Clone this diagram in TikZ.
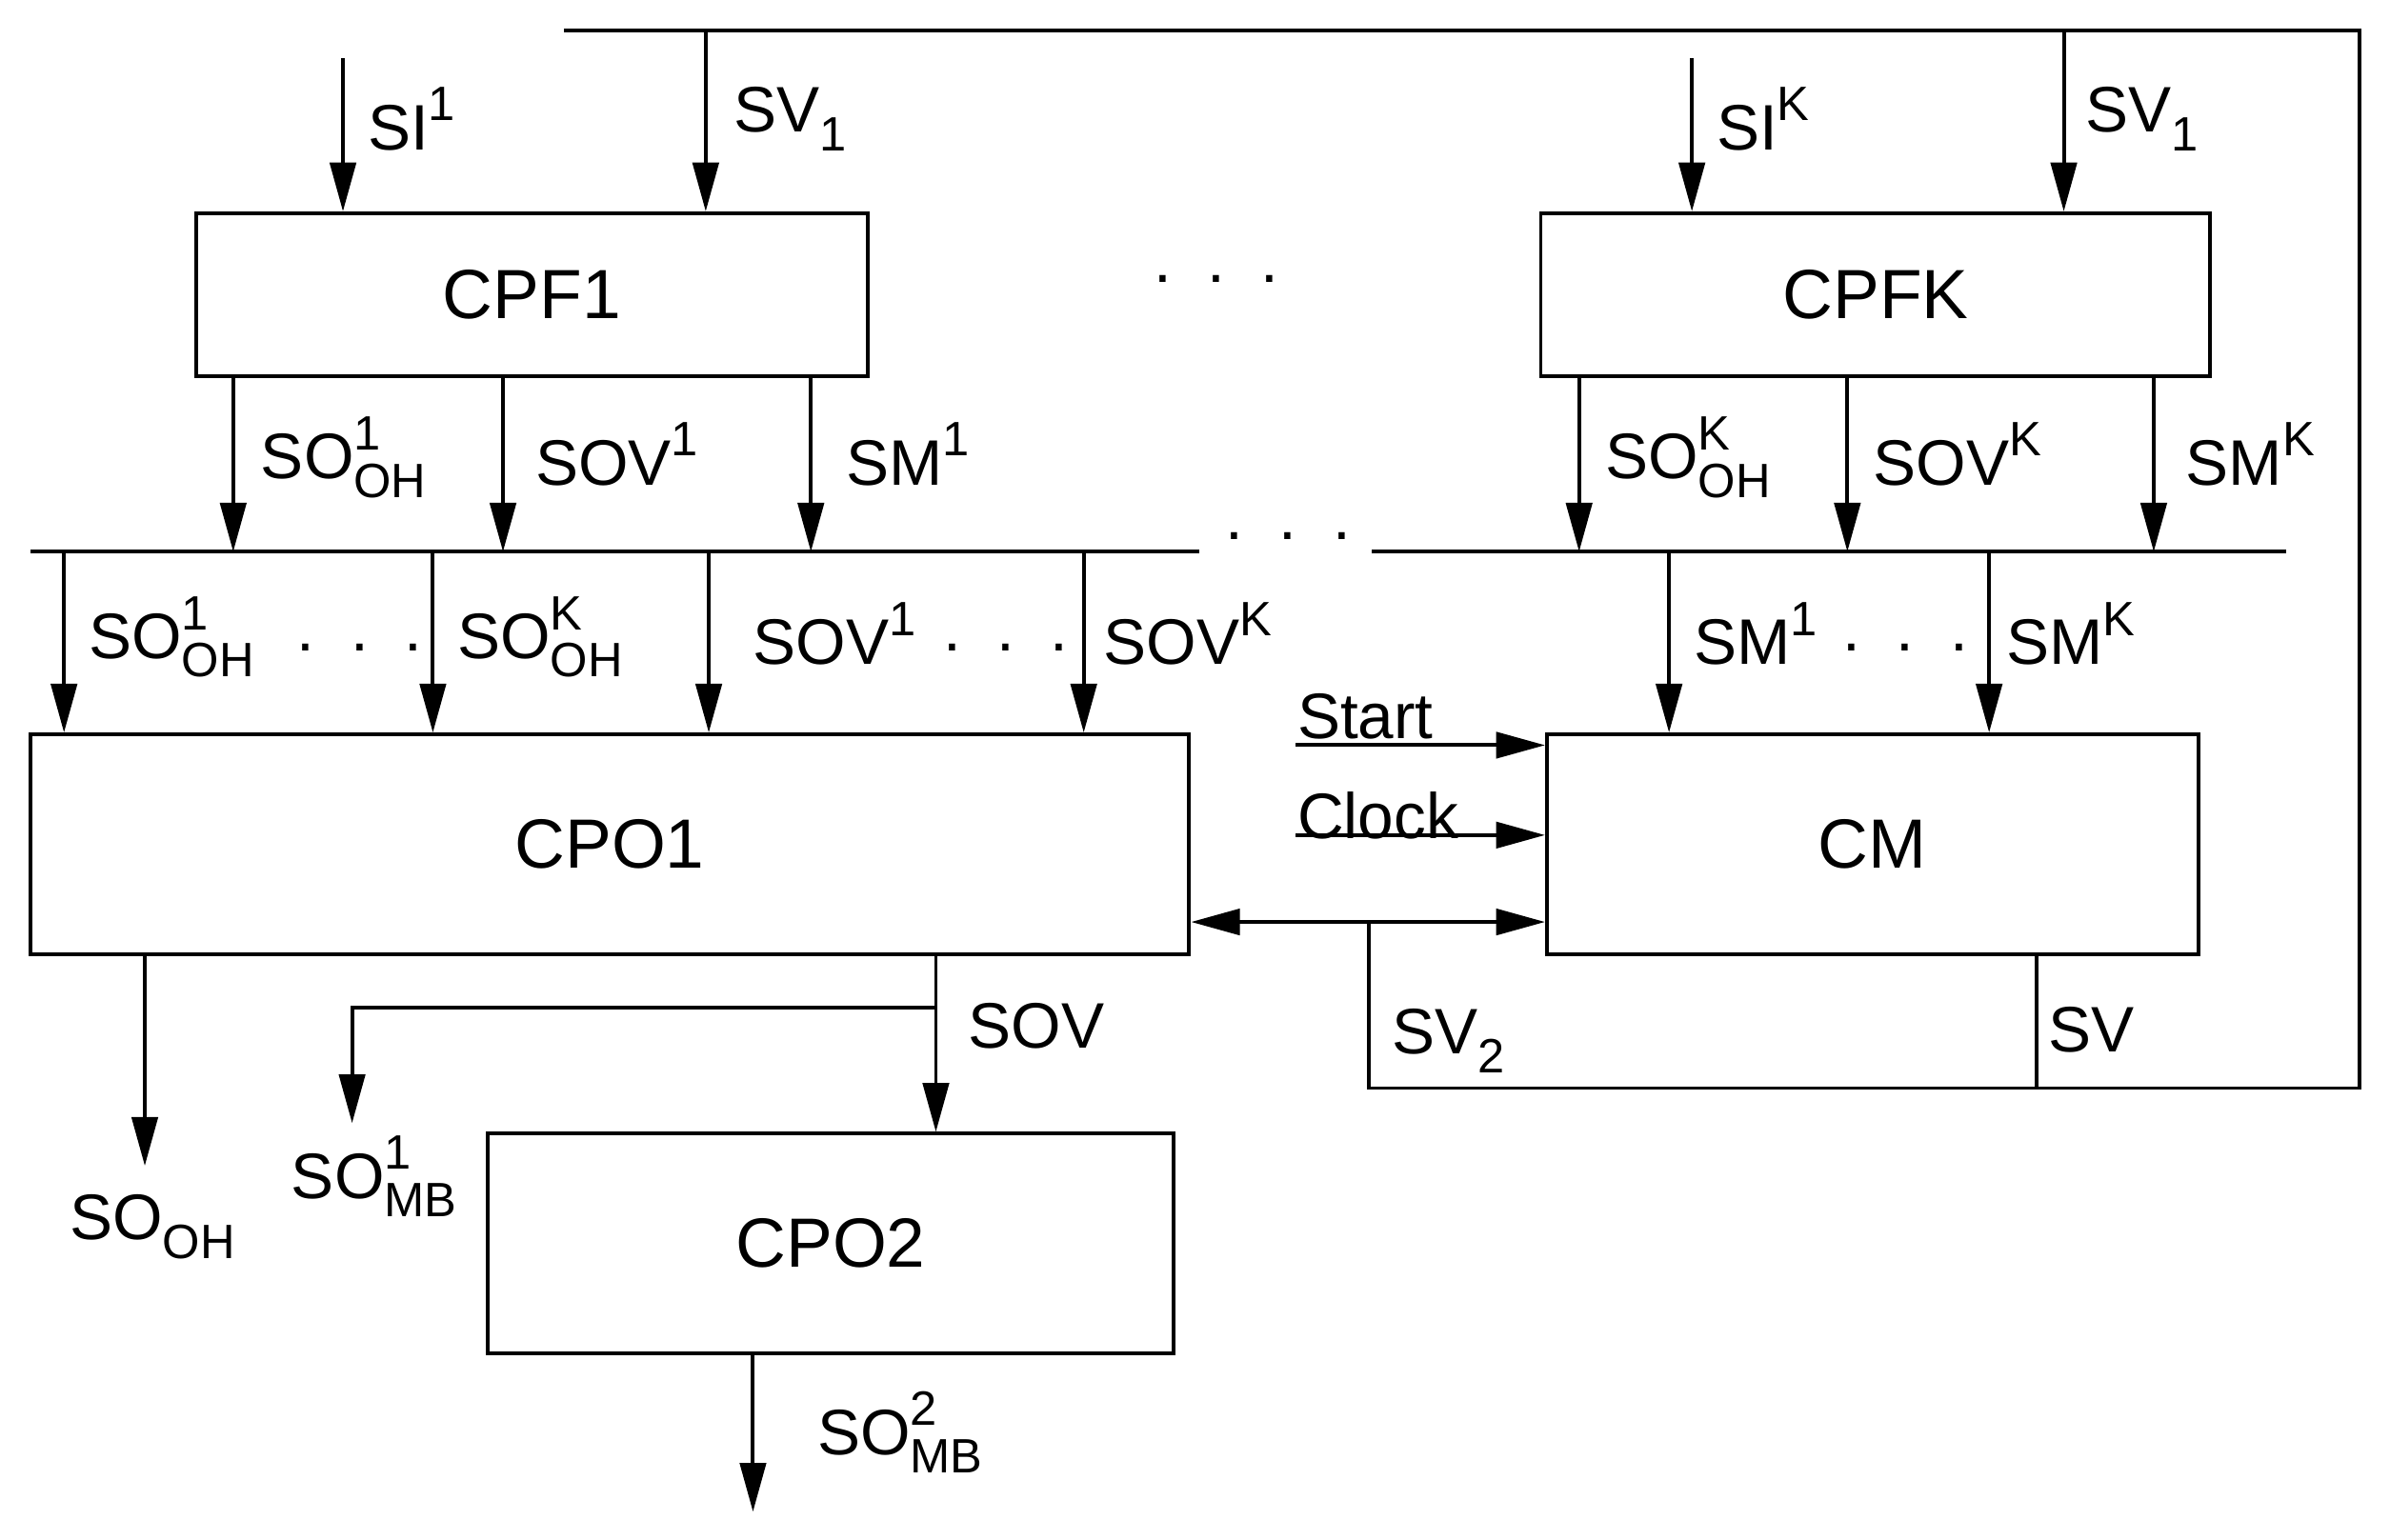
\documentclass[tikz,border=0pt]{standalone}
\usepackage{fontspec}
\setmainfont{Liberation Sans}
\usetikzlibrary{arrows.meta}
\newcommand\supsub[2]{\rlap{\raisebox{0.85ex}{\fontsize{9}{10}\selectfont #1}}\raisebox{-0.55ex}{\fontsize{9}{10}\selectfont #2}}
\newcommand\supx[1]{\raisebox{0.85ex}{\fontsize{9}{10}\selectfont #1}}
\newcommand\subx[1]{\raisebox{-0.55ex}{\fontsize{9}{10}\selectfont #1}}
\begin{document}
\begin{tikzpicture}[x=0.01cm,y=-0.01cm,line width=0.7pt,
  box/.style={draw,minimum width=#1,inner sep=0pt,font=\fontsize{13}{15}\selectfont},
  arr/.style={-{Triangle[length=0.32cm,width=0.17cm]}},
  darr/.style={{Triangle[length=0.32cm,width=0.17cm]}-{Triangle[length=0.32cm,width=0.17cm]}},
  lab/.style={font=\fontsize{12}{14}\selectfont,inner sep=0pt}]
\useasboundingbox (0,0) rectangle (1568,1010);
% boxes
\node[draw,minimum width=4.4cm,minimum height=1.07cm,font=\fontsize{13}{15}\selectfont] (cpf1) at (349,193.5) {CPF1};
\node[draw,minimum width=4.39cm,minimum height=1.07cm,font=\fontsize{13}{15}\selectfont] (cpfk) at (1230.5,193.5) {CPFK};
\node[draw,minimum width=7.6cm,minimum height=1.44cm,font=\fontsize{13}{15}\selectfont] (cpo1) at (400,554) {CPO1};
\node[draw,minimum width=4.27cm,minimum height=1.44cm,font=\fontsize{13}{15}\selectfont] (cm) at (1228.5,554) {CM};
\node[draw,minimum width=4.5cm,minimum height=1.44cm,font=\fontsize{13}{15}\selectfont] (cpo2) at (545,816) {CPO2};
% feedback loop
\coordinate (t0) at (370,20); \coordinate (t1) at (1548,20);
\coordinate (t2) at (1548,714); \coordinate (t3) at (898,714);
\coordinate (t4) at (898,605); \coordinate (sv) at (1336,714);
\draw (t0) -- (t1) -- (t2) -- (t3) -- (t4);
\draw (cm.south -| sv) -- (sv);
\draw[darr] (cpo1.east |- t4) -- (cm.west |- t4);
% inputs
\coordinate (a1) at (225,38); \coordinate (a2) at (463,20);
\coordinate (a3) at (1110,38); \coordinate (a4) at (1354,20);
\draw[arr] (a1) -- (cpf1.north -| a1); \draw[arr] (a2) -- (cpf1.north -| a2);
\draw[arr] (a3) -- (cpfk.north -| a3); \draw[arr] (a4) -- (cpfk.north -| a4);
\node[lab,anchor=west] (l1) at (240,78) {SI\supx{1}};
\node[lab,anchor=west] (l2) at (480,78) {SV\subx{1}};
\node[lab,anchor=west] (l3) at (1125,78) {SI\supx{K}};
\node[lab,anchor=west] (l4) at (1367,78) {SV\subx{1}};
\node[lab] (d1) at (798,183) {.\ \ .\ \ .};
% bus
\coordinate (b0) at (20,362); \coordinate (b1) at (787,362);
\coordinate (b2) at (900,362); \coordinate (b3) at (1500,362);
\draw (b0) -- (b1); \draw (b2) -- (b3);
\node[lab] (d2) at (845,352) {.\ \ .\ \ .};
\foreach \x/\n in {153/c1,330/c2,532/c3}{\coordinate (\n) at (\x,362); \draw[arr] (cpf1.south -| \n) -- (\n);}
\foreach \x/\n in {1036/k1,1212/k2,1413/k3}{\coordinate (\n) at (\x,362); \draw[arr] (cpfk.south -| \n) -- (\n);}
\node[lab,anchor=west] at (170,300) {SO\supsub{1}{OH}};
\node[lab,anchor=west] at (350,298) {SOV\supx{1}};
\node[lab,anchor=west] at (554,298) {SM\supx{1}};
\node[lab,anchor=west] at (1052,300) {SO\supsub{K}{OH}};
\node[lab,anchor=west] at (1228,298) {SOV\supx{K}};
\node[lab,anchor=west] at (1433,298) {SM\supx{K}};
\foreach \x/\n in {42/e1,284/e2,465/e3,711/e4}{\coordinate (\n) at (\x,362); \draw[arr] (\n) -- (cpo1.north -| \n);}
\foreach \x/\n in {1095/f1,1305/f2}{\coordinate (\n) at (\x,362); \draw[arr] (\n) -- (cm.north -| \n);}
\node[lab,anchor=west] at (57,418) {SO\supsub{1}{OH}};
\node[lab] at (236,425) {.\ \ .\ \ .};
\node[lab,anchor=west] at (299,418) {SO\supsub{K}{OH}};
\node[lab,anchor=west] at (493,416) {SOV\supx{1}};
\node[lab] at (660,425) {.\ \ .\ \ .};
\node[lab,anchor=west] at (723,416) {SOV\supx{K}};
\node[lab,anchor=west] at (1110,416) {SM\supx{1}};
\node[lab] at (1250,425) {.\ \ .\ \ .};
\node[lab,anchor=west] at (1315,416) {SM\supx{K}};
% start clock
\coordinate (s0) at (850,489); \coordinate (c0) at (850,548);
\draw[arr] (s0) -- (cm.west |- s0); \draw[arr] (c0) -- (cm.west |- c0);
\node[lab,anchor=south west] at (850,486) {Start};
\node[lab,anchor=south west] at (850,552) {Clock};
\node[lab,anchor=west] at (912,683) {SV\subx{2}};
\node[lab,anchor=west] at (1343,676) {SV};
% outputs
\coordinate (o1) at (95,765);
\draw[arr] (cpo1.south -| o1) -- (o1);
\node[lab] at (100,805) {SO\subx{OH}};
\coordinate (v0) at (614,661); \coordinate (v1) at (231,661); \coordinate (v2) at (231,737);
\draw[arr] (cpo1.south -| v0) -- (cpo2.north -| v0);
\draw[arr] (v0) -- (v1) -- (v2);
\node[lab,anchor=west] at (634,673) {SOV};
\node[lab,anchor=west] at (190,772) {SO\supsub{1}{MB}};
\coordinate (o2) at (494,992);
\draw[arr] (cpo2.south -| o2) -- (o2);
\node[lab,anchor=west] at (535,940) {SO\supsub{2}{MB}};
\end{tikzpicture}
\end{document}
